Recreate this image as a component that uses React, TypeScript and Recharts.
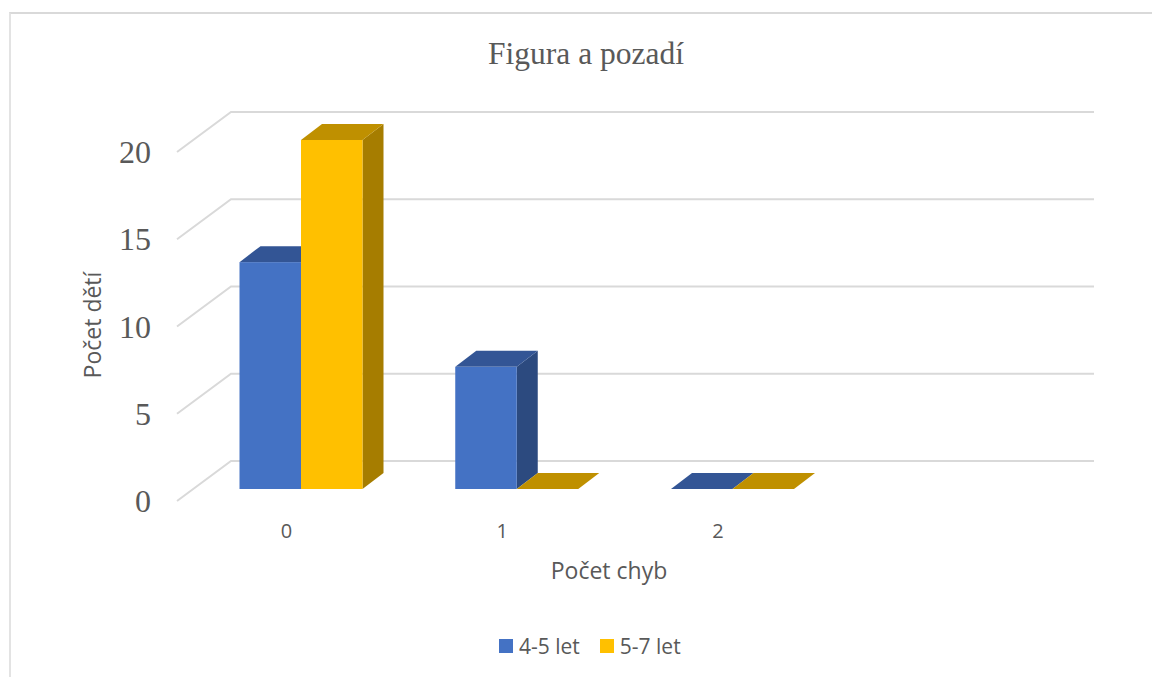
import { Bar, BarChart, CartesianGrid, Legend, XAxis, YAxis } from 'recharts';

const categories = ['0', '1', '2', ''];
const youngerValues = [13, 7, 0, null];
const olderValues = [20, 0, 0, null];
const yTicks = [0, 5, 10, 15, 20];

const seriesNames = ['4-5 let', '5-7 let'];

const chartData = categories.map((category, i) => ({
  category,
  younger: youngerValues[i],
  older: olderValues[i],
}));

const SANS = '"Open Sans", sans-serif';
const SERIF = '"Liberation Serif", serif';
const TEXT_COLOR = '#595959';
const GRID_COLOR = '#D9D9D9';

// offsets of the fake 3D box, relative to the plane the bars stand on
const BAR_DEPTH = { x: 21, y: -16 };
const WALL = { x: 37.5, y: -28 };
const FLOOR_FRONT = { x: -16.5, y: 12 };

const BLUE = { front: '#4472C4', top: '#335595', side: '#2C4A7F' };
const GOLD = { front: '#FFC000', top: '#BF9000', side: '#A67D00' };

function box3d(colors: typeof BLUE) {
  return function Box(props: any) {
    const { x, y, width, height } = props;
    if (height == null || y == null) return <g />;
    const dx = BAR_DEPTH.x;
    const dy = BAR_DEPTH.y;
    const right = x + width;
    const bottom = y + height;
    return (
      <g>
        {height > 0 && (
          <path
            d={`M${right},${y} L${right + dx},${y + dy} L${right + dx},${bottom + dy} L${right},${bottom} Z`}
            fill={colors.side}
          />
        )}
        <path
          d={`M${x},${y} L${x + dx},${y + dy} L${right + dx},${y + dy} L${right},${y} Z`}
          fill={colors.top}
        />
        {height > 0 && <rect x={x} y={y} width={width} height={height} fill={colors.front} />}
      </g>
    );
  };
}

function WallLine(props: any) {
  const { x1, x2, y1 } = props;
  const backY = y1 + WALL.y;
  return (
    <path
      d={`M${x1 + FLOOR_FRONT.x},${y1 + FLOOR_FRONT.y} L${x1 + WALL.x},${backY} L${x2 + WALL.x},${backY}`}
      fill="none"
      stroke={GRID_COLOR}
      strokeWidth={2}
    />
  );
}

function YTick({ y, payload }: any) {
  return (
    <text x={151} y={y + 12} dy={11} textAnchor="end" fontFamily={SERIF} fontSize={32} fill={TEXT_COLOR}>
      {payload.value}
    </text>
  );
}

function XTick({ x, payload }: any) {
  return (
    <text x={x - 15} y={538} textAnchor="middle" fontFamily={SANS} fontSize={20} fill={TEXT_COLOR}>
      {payload.value}
    </text>
  );
}

function LegendBlock({ payload }: any) {
  return (
    <div style={{ display: 'flex', alignItems: 'center', height: 28, gap: 20 }}>
      {(payload || []).map((item: any) => (
        <div key={item.value} style={{ display: 'flex', alignItems: 'center', gap: 6 }}>
          <span style={{ width: 14, height: 14, background: item.color, display: 'inline-block' }} />
          <span style={{ fontFamily: SANS, fontSize: 21, color: TEXT_COLOR, lineHeight: '28px' }}>{item.value}</span>
        </div>
      ))}
    </div>
  );
}

export default function App() {
  return (
    <div style={{ position: 'absolute', left: 0, top: 0, width: 1152, height: 677, overflow: 'hidden', background: '#fff' }}>
      <div
        style={{
          position: 'absolute',
          left: 9,
          top: 12,
          width: 1300,
          height: 800,
          borderTop: `2px solid ${GRID_COLOR}`,
          borderLeft: '2px solid #E3E3E3',
        }}
      />
      <div style={{ position: 'absolute', left: 0, top: 0 }}>
        <BarChart
          width={1152}
          height={677}
          data={chartData}
          margin={{ top: 140, right: 95.5, bottom: 0, left: 0 }}
          barCategoryGap={46.4}
          barGap={0}
          barSize={61.5}
        >
          <CartesianGrid horizontal={(p: any) => <WallLine key={p.key} {...p} />} vertical={false} />
          <XAxis dataKey="category" height={160} axisLine={false} tickLine={false} tick={<XTick />} interval={0} />
          <YAxis
            width={193.5}
            domain={[0, 20]}
            ticks={yTicks}
            axisLine={false}
            tickLine={false}
            tick={<YTick />}
            interval={0}
          />
          <Legend
            content={<LegendBlock />}
            verticalAlign="bottom"
            wrapperStyle={{ left: 499, bottom: 17, width: 300, height: 28 }}
          />
          <Bar dataKey="younger" name={seriesNames[0]} fill={BLUE.front} shape={box3d(BLUE)} isAnimationActive={false} />
          <Bar dataKey="older" name={seriesNames[1]} fill={GOLD.front} shape={box3d(GOLD)} isAnimationActive={false} />
          <text x={586} y={64} textAnchor="middle" fontFamily={SERIF} fontSize={31.5} fill={TEXT_COLOR}>
            Figura a pozadí
          </text>
          <text
            x={95}
            y={325}
            textAnchor="middle"
            dominantBaseline="middle"
            transform="rotate(-90 95 325)"
            fontFamily={SANS}
            fontSize={23}
            fill={TEXT_COLOR}
          >
            Počet dětí
          </text>
          <text x={609} y={579} textAnchor="middle" fontFamily={SANS} fontSize={23} fill={TEXT_COLOR}>
            Počet chyb
          </text>
        </BarChart>
      </div>
    </div>
  );
}
